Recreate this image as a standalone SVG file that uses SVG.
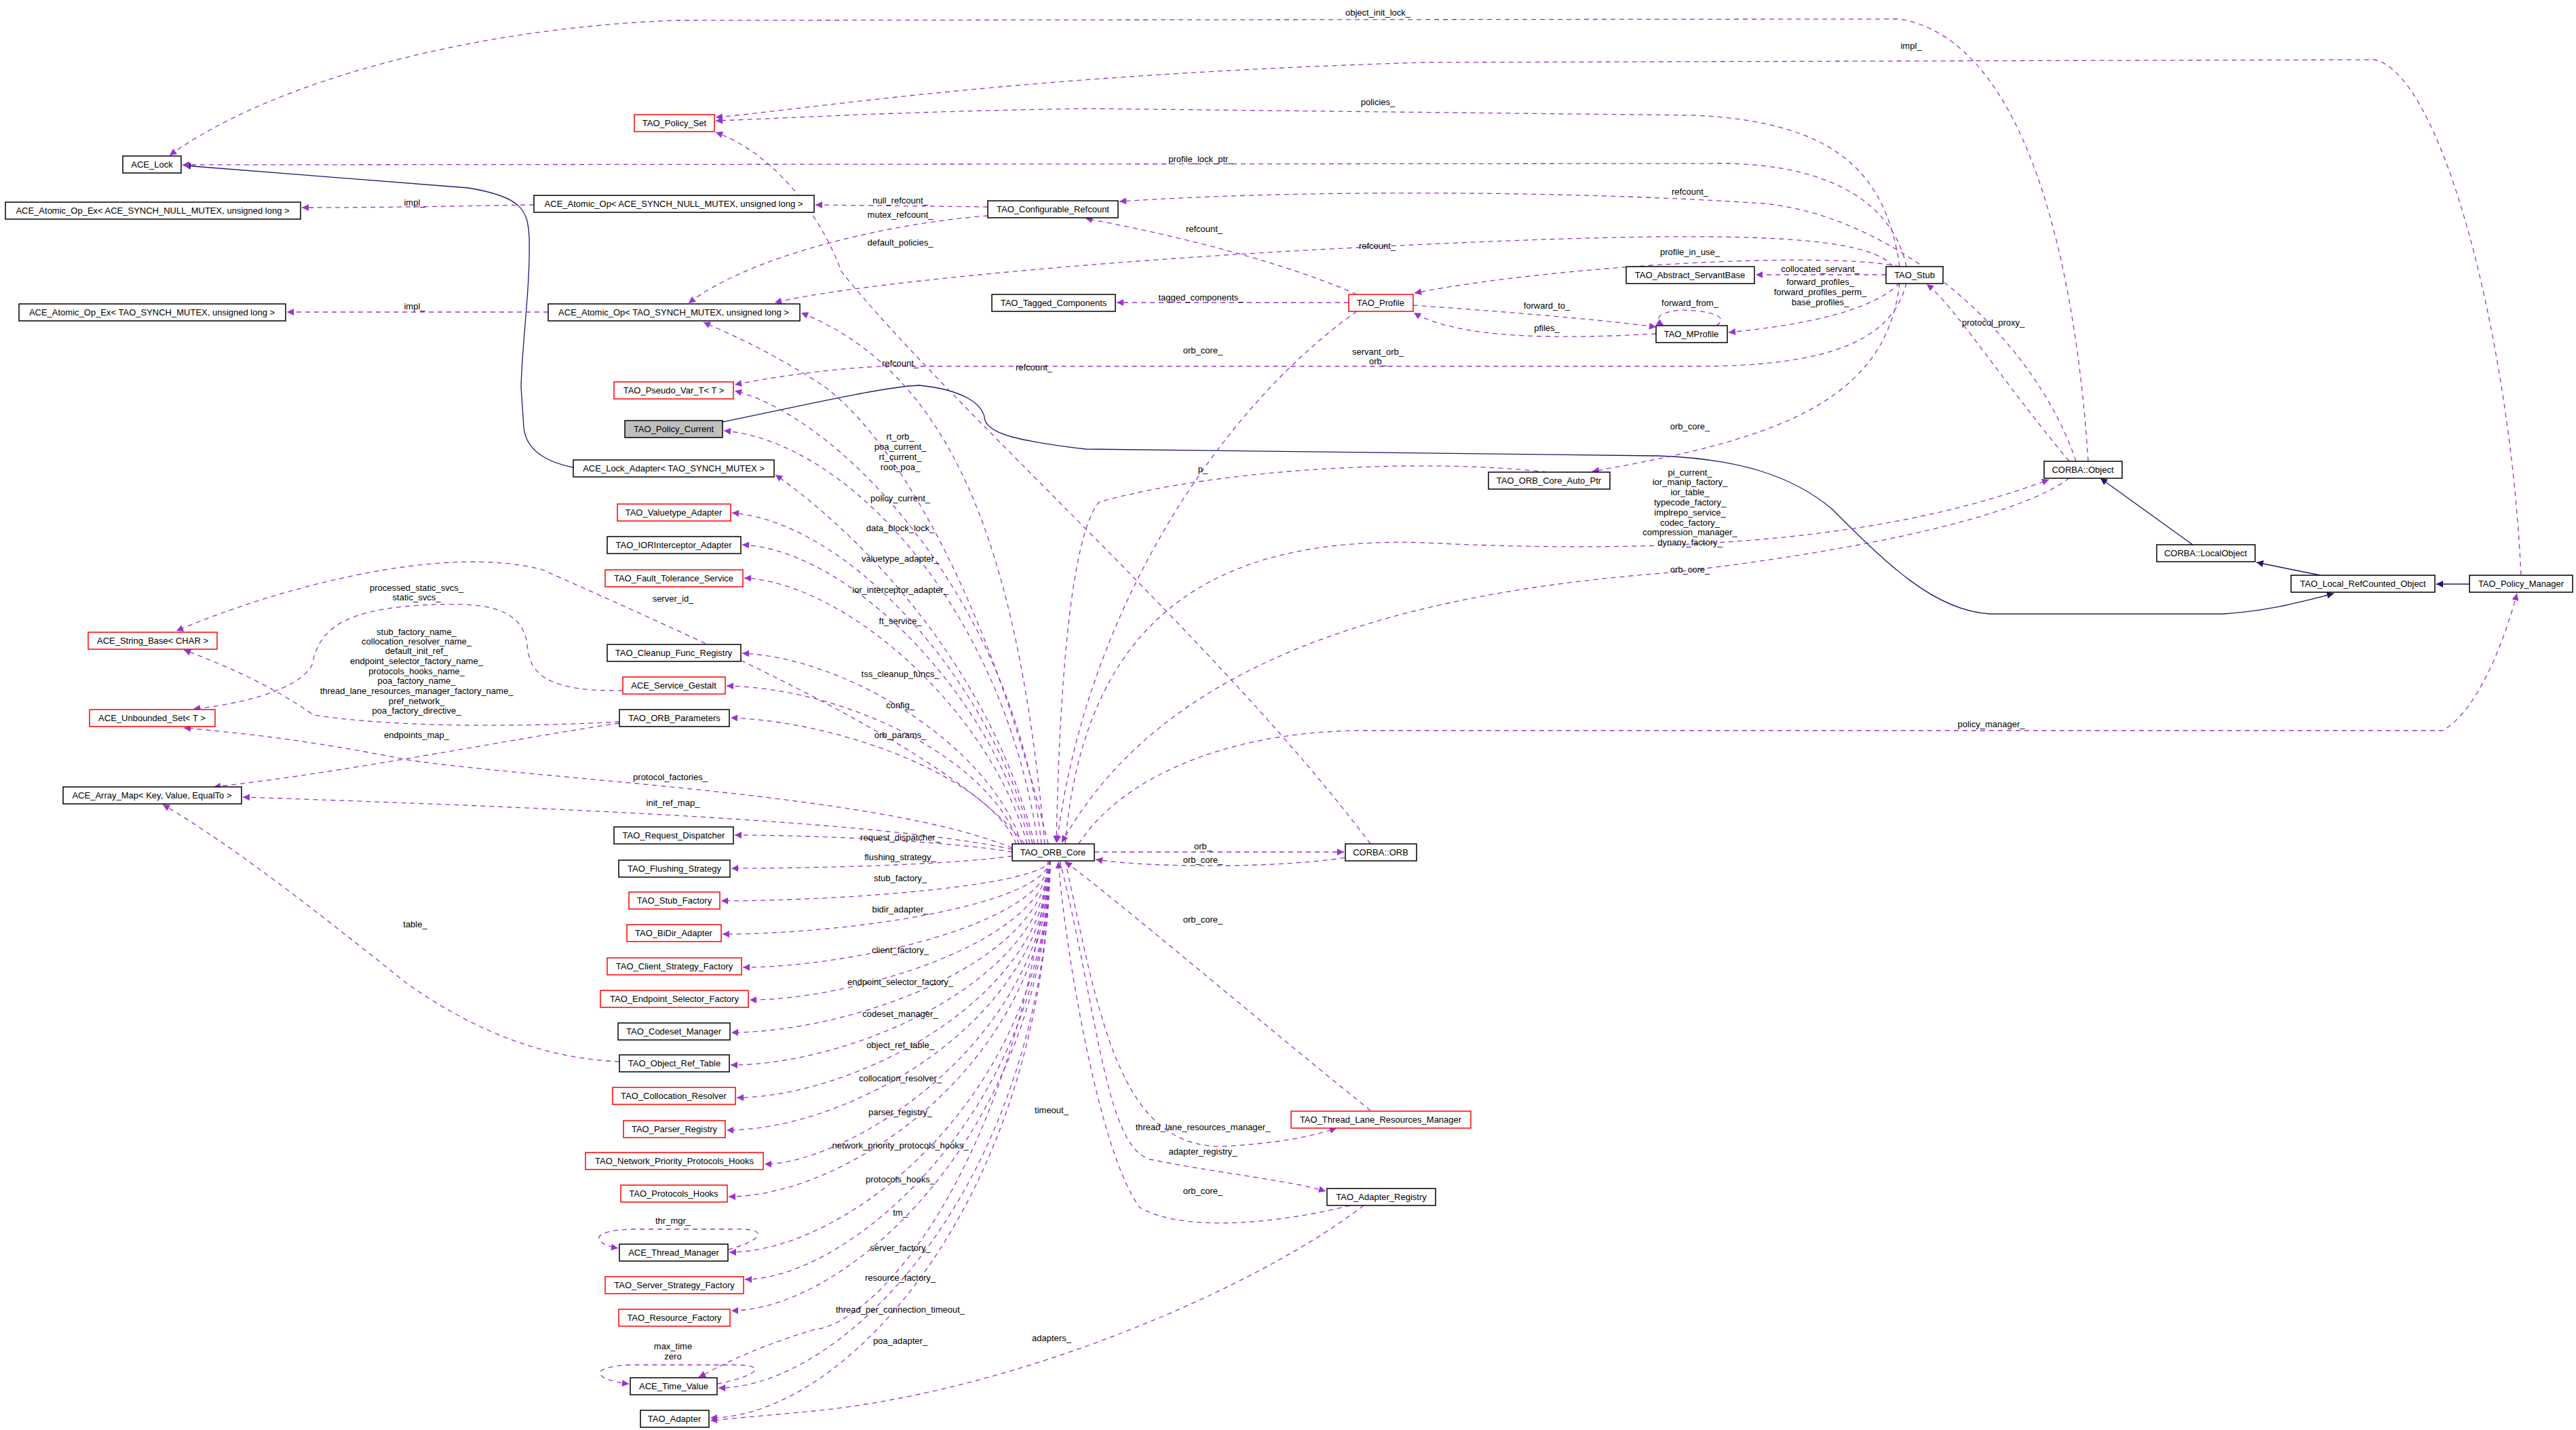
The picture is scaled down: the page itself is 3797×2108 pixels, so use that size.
<svg xmlns="http://www.w3.org/2000/svg" width="3797" height="2108" viewBox="0 0 3797 2108">
<style>
.n rect{fill:#fff;stroke:#000;stroke-width:1.5}
.n.r rect{stroke:#f00}
.n.g rect{fill:#bfbfbf}
text{font-family:"Liberation Sans",Arial,sans-serif;font-size:13px;fill:#000;text-anchor:middle}
.e path{fill:none;stroke:#9a32cd;stroke-width:1.3;stroke-dasharray:7,6;marker-end:url(#ap)}
.i path{fill:none;stroke:#191970;stroke-width:1.3;marker-end:url(#an)}
</style>
<defs>
<marker id="ap" viewBox="0 0 10 10" refX="10" refY="5" markerWidth="14" markerHeight="10" markerUnits="userSpaceOnUse" orient="auto"><path d="M0,0 L10,5 L0,10 z" fill="#9a32cd"/></marker>
<marker id="an" viewBox="0 0 10 10" refX="10" refY="5" markerWidth="14" markerHeight="10" markerUnits="userSpaceOnUse" orient="auto"><path d="M0,0 L10,5 L0,10 z" fill="#191970"/></marker>
</defs>
<rect width="3797" height="2108" fill="#fff"/>
<g id="connectors">
<g class="i">
<path d="M845,689 C800,680 775,660 772,630 L768,570 C770,500 782,420 780,350 C778,310 770,290 690,277 L271,244"/>
<path d="M1065,622 C1150,605 1300,570 1355,568 C1420,575 1450,595 1452,620 C1460,640 1500,650 1600,662 L2444,672 C2560,676 2640,700 2700,750 C2780,830 2850,900 2933,905 L3277,905 C3350,900 3400,885 3440,875"/>
<path d="M3232,803 L3096,705"/>
<path d="M3420,848 L3326,829"/>
<path d="M3640,861 L3591,861"/>
</g>
<g class="e">
<path d="M3078,680 C3060,400 2990,60 2800,28 L1000,30 C700,40 400,120 250,229"/>
<path d="M3716,848 C3700,500 3600,110 3500,88 L2100,92 C1500,110 1200,160 1055,173"/>
<path d="M2800,393 C2780,250 2700,180 2500,170 L1600,160 C1300,165 1150,175 1055,178"/>
<path d="M2810,393 C2790,300 2700,245 2550,241 L269,243"/>
<path d="M787,302 C700,303 600,306 445,306"/>
<path d="M1456,305 L1202,302"/>
<path d="M1456,318 C1300,330 1100,380 1015,447"/>
<path d="M808,460 L423,460"/>
<path d="M3060,680 C3000,500 2800,320 2600,300 C2300,280 1900,280 1650,297"/>
<path d="M2000,434 C1900,390 1750,350 1600,322"/>
<path d="M2790,393 C2750,340 2500,340 2000,365 C1600,385 1250,420 1142,446"/>
<path d="M2800,393 C2700,370 2300,390 2085,432"/>
<path d="M2780,405 L2588,405"/>
<path d="M2800,417 C2760,460 2650,480 2548,490"/>
<path d="M1988,446 L1646,446"/>
<path d="M2083,450 C2200,458 2350,470 2441,482"/>
<path d="M2441,492 C2300,500 2150,500 2084,461"/>
<path d="M2530,480 C2560,460 2480,455 2470,458 C2440,462 2440,472 2452,480"/>
<path d="M2810,417 C2790,500 2700,540 2500,540 L1300,540 C1200,545 1120,560 1083,567"/>
<path d="M2000,459 C1800,600 1600,900 1558,1242"/>
<path d="M3050,680 C2950,560 2880,450 2840,419"/>
<path d="M2800,417 C2780,600 2600,650 2347,695"/>
<path d="M2280,696 C2100,675 1800,690 1620,740 C1570,800 1560,1100 1557,1242"/>
<path d="M1570,1244 C1600,900 1800,790 2100,800 C2500,820 2800,790 3020,707"/>
<path d="M3050,705 C2950,780 2600,830 2450,845 C2000,880 1700,1000 1565,1242"/>
<path d="M1590,1244 C1650,1150 1800,1080 2000,1077 L3600,1077 C3650,1050 3690,950 3710,875"/>
<path d="M2020,1244 C1800,950 1400,600 1240,400 C1215,330 1150,230 1055,195"/>
<path d="M1540,1244 C1500,800 1400,550 1181,461"/>
<path d="M1545,1244 C1450,850 1300,620 1200,560 C1120,510 1070,490 1037,475"/>
<path d="M1535,1244 C1500,900 1250,620 1083,576"/>
<path d="M1530,1244 C1480,900 1250,650 1067,635"/>
<path d="M1525,1244 C1450,950 1230,760 1143,700"/>
<path d="M1522,1244 C1460,1000 1250,770 1079,756"/>
<path d="M1518,1244 C1460,1020 1250,810 1094,803"/>
<path d="M1514,1244 C1460,1050 1250,860 1097,852"/>
<path d="M1510,1244 C1400,1100 1000,930 800,840 C650,800 400,870 260,930"/>
<path d="M1506,1244 C1460,1100 1250,970 1094,963"/>
<path d="M1502,1244 C1460,1120 1250,1015 1071,1011"/>
<path d="M1498,1244 C1460,1150 1250,1065 1077,1058"/>
<path d="M918,1018 C800,1020 780,990 777,950 C770,890 700,890 648,891 C500,895 470,930 460,980 C440,1020 340,1040 285,1045"/>
<path d="M913,1064 C800,1070 600,1075 462,1054 C400,1010 330,980 271,958"/>
<path d="M913,1066 C750,1090 500,1140 315,1160"/>
<path d="M1492,1250 C1300,1170 800,1150 600,1120 C450,1090 350,1080 271,1073"/>
<path d="M1492,1252 C1300,1210 800,1190 358,1175"/>
<path d="M913,1565 C800,1560 700,1520 600,1450 C500,1370 350,1250 240,1186"/>
<path d="M1492,1256 C1400,1240 1200,1231 1083,1231"/>
<path d="M1492,1262 C1400,1275 1200,1280 1078,1280"/>
<path d="M1548,1268 C1540,1305 1250,1328 1063,1328"/>
<path d="M1548,1268 C1540,1334 1250,1377 1065,1377"/>
<path d="M1548,1268 C1540,1363 1250,1426 1095,1426"/>
<path d="M1548,1268 C1540,1392 1250,1474 1105,1474"/>
<path d="M1548,1268 C1540,1421 1250,1522 1078,1522"/>
<path d="M1548,1268 C1540,1450 1250,1570 1077,1570"/>
<path d="M1548,1268 C1540,1479 1250,1618 1086,1618"/>
<path d="M1548,1268 C1540,1507 1250,1666 1071,1666"/>
<path d="M1548,1268 C1540,1537 1250,1716 1127,1716"/>
<path d="M1548,1268 C1540,1566 1250,1764 1074,1764"/>
<path d="M1548,1268 C1540,1615 1250,1846 1075,1846"/>
<path d="M1548,1268 C1540,1639 1250,1886 1098,1886"/>
<path d="M1548,1268 C1540,1666 1250,1932 1078,1932"/>
<path d="M1548,1268 C1540,1735 1250,2046 1059,2046"/>
<path d="M1548,1268 C1540,1761 1250,2090 1047,2090"/>
<path d="M1545,1268 C1500,1700 1300,1950 1200,1960 C1100,1990 1050,2020 1030,2030"/>
<path d="M1073,1842 C1120,1830 1140,1810 1080,1812 L930,1812 C860,1815 880,1835 911,1840"/>
<path d="M1057,2040 C1110,2030 1140,2012 1080,2012 L930,2012 C860,2015 880,2035 927,2040"/>
<path d="M2010,1777 C1850,1900 1500,2050 1200,2080 L1047,2094"/>
<path d="M1613,1256 L1981,1256"/>
<path d="M1995,1262 C1900,1280 1700,1280 1615,1267"/>
<path d="M2020,1637 C1850,1500 1650,1330 1570,1270"/>
<path d="M1570,1268 C1620,1500 1650,1690 1800,1690 C1900,1685 1950,1670 1970,1663"/>
<path d="M1562,1268 C1620,1500 1630,1700 1700,1710 C1800,1730 1900,1740 1954,1756"/>
<path d="M1990,1777 C1900,1800 1750,1820 1680,1780 C1620,1700 1570,1400 1560,1270"/>
</g>
<g id="labels">
<text x="2031" y="23">object_init_lock_</text>
<text x="2817" y="72">impl_</text>
<text x="2031" y="155">policies_</text>
<text x="1770" y="239">profile_lock_ptr_</text>
<text x="611" y="303">impl_</text>
<text x="611" y="456">impl_</text>
<text x="1327" y="300">null_refcount_</text>
<text x="1327" y="321">mutex_refcount_</text>
<text x="1327" y="362">default_policies_</text>
<text x="2491" y="287">refcount_</text>
<text x="1775" y="342">refcount_</text>
<text x="2030" y="367">refcount_</text>
<text x="2491" y="376">profile_in_use_</text>
<text x="2683" y="401">collocated_servant_</text>
<text x="2683" y="420">forward_profiles_</text>
<text x="2683" y="435">forward_profiles_perm_</text>
<text x="2683" y="450">base_profiles_</text>
<text x="1770" y="443">tagged_components_</text>
<text x="2280" y="455">forward_to_</text>
<text x="2280" y="488">pfiles_</text>
<text x="2491" y="451">forward_from_</text>
<text x="2938" y="480">protocol_proxy_</text>
<text x="1773" y="521">orb_core_</text>
<text x="2031" y="523">servant_orb_</text>
<text x="2031" y="537">orb_</text>
<text x="1327" y="540">refcount_</text>
<text x="1524" y="546">refcount_</text>
<text x="1327" y="648">rt_orb_</text>
<text x="1327" y="663">poa_current_</text>
<text x="1327" y="678">rt_current_</text>
<text x="1327" y="693">root_poa_</text>
<text x="2491" y="633">orb_core_</text>
<text x="1773" y="696">p_</text>
<text x="2491" y="701">pi_current_</text>
<text x="2491" y="715">ior_manip_factory_</text>
<text x="2491" y="730">ior_table_</text>
<text x="2491" y="745">typecode_factory_</text>
<text x="2491" y="760">implrepo_service_</text>
<text x="2491" y="775">codec_factory_</text>
<text x="2491" y="789">compression_manager_</text>
<text x="2491" y="804">dynany_factory_</text>
<text x="2491" y="844">orb_core_</text>
<text x="1327" y="739">policy_current_</text>
<text x="1327" y="783">data_block_lock_</text>
<text x="1327" y="828">valuetype_adapter_</text>
<text x="1327" y="874">ior_interceptor_adapter_</text>
<text x="1327" y="920">ft_service_</text>
<text x="992" y="887">server_id_</text>
<text x="1327" y="998">tss_cleanup_funcs_</text>
<text x="1327" y="1044">config_</text>
<text x="1327" y="1088">orb_params_</text>
<text x="2935" y="1072">policy_manager_</text>
<text x="614" y="871">processed_static_svcs_</text>
<text x="614" y="885">static_svcs_</text>
<text x="614" y="936">stub_factory_name_</text>
<text x="614" y="950">collocation_resolver_name_</text>
<text x="614" y="964">default_init_ref_</text>
<text x="614" y="979">endpoint_selector_factory_name_</text>
<text x="614" y="994">protocols_hooks_name_</text>
<text x="614" y="1008">poa_factory_name_</text>
<text x="614" y="1023">thread_lane_resources_manager_factory_name_</text>
<text x="614" y="1038">pref_network_</text>
<text x="614" y="1052">poa_factory_directive_</text>
<text x="614" y="1088">endpoints_map_</text>
<text x="988" y="1150">protocol_factories_</text>
<text x="992" y="1188">init_ref_map_</text>
<text x="612" y="1367">table_</text>
<text x="1327" y="1239">request_dispatcher_</text>
<text x="1327" y="1268">flushing_strategy_</text>
<text x="1327" y="1299">stub_factory_</text>
<text x="1327" y="1345">bidir_adapter_</text>
<text x="1327" y="1405">client_factory_</text>
<text x="1327" y="1452">endpoint_selector_factory_</text>
<text x="1327" y="1499">codeset_manager_</text>
<text x="1327" y="1545">object_ref_table_</text>
<text x="1327" y="1594">collocation_resolver_</text>
<text x="1327" y="1644">parser_registry_</text>
<text x="1327" y="1693">network_priority_protocols_hooks_</text>
<text x="1327" y="1743">protocols_hooks_</text>
<text x="1327" y="1792">tm_</text>
<text x="1327" y="1844">server_factory_</text>
<text x="1327" y="1888">resource_factory_</text>
<text x="1327" y="1935">thread_per_connection_timeout_</text>
<text x="1327" y="1981">poa_adapter_</text>
<text x="992" y="1804">thr_mgr_</text>
<text x="992" y="1989">max_time</text>
<text x="992" y="2004">zero</text>
<text x="1773" y="1252">orb_</text>
<text x="1773" y="1272">orb_core_</text>
<text x="1773" y="1360">orb_core_</text>
<text x="1550" y="1641">timeout_</text>
<text x="1773" y="1666">thread_lane_resources_manager_</text>
<text x="1773" y="1702">adapter_registry_</text>
<text x="1773" y="1760">orb_core_</text>
<text x="1550" y="1977">adapters_</text>
</g>
</g>
<g id="ACE_Lock" class="n"><rect x="181" y="230" width="86" height="25"/><text x="224" y="247">ACE_Lock</text></g>
<g id="TAO_Policy_Set" class="n r"><rect x="935" y="169" width="118" height="25"/><text x="994" y="186">TAO_Policy_Set</text></g>
<g id="Op_Ex_NULL" class="n"><rect x="8" y="298" width="435" height="25"/><text x="225" y="315">ACE_Atomic_Op_Ex&lt; ACE_SYNCH_NULL_MUTEX, unsigned long &gt;</text></g>
<g id="Op_NULL" class="n"><rect x="787" y="288" width="413" height="25"/><text x="993" y="305">ACE_Atomic_Op&lt; ACE_SYNCH_NULL_MUTEX, unsigned long &gt;</text></g>
<g id="Op_Ex_TAO" class="n"><rect x="28" y="448" width="393" height="25"/><text x="224" y="465">ACE_Atomic_Op_Ex&lt; TAO_SYNCH_MUTEX, unsigned long &gt;</text></g>
<g id="Op_TAO" class="n"><rect x="808" y="448" width="371" height="25"/><text x="993" y="465">ACE_Atomic_Op&lt; TAO_SYNCH_MUTEX, unsigned long &gt;</text></g>
<g id="TAO_Pseudo_Var_T" class="n r"><rect x="905" y="563" width="176" height="25"/><text x="993" y="580">TAO_Pseudo_Var_T&lt; T &gt;</text></g>
<g id="TAO_Policy_Current" class="n g"><rect x="921" y="620" width="144" height="25"/><text x="993" y="637">TAO_Policy_Current</text></g>
<g id="ACE_Lock_Adapter" class="n"><rect x="845" y="678" width="296" height="25"/><text x="993" y="695">ACE_Lock_Adapter&lt; TAO_SYNCH_MUTEX &gt;</text></g>
<g id="TAO_Valuetype_Adapter" class="n r"><rect x="910" y="743" width="167" height="25"/><text x="993" y="760">TAO_Valuetype_Adapter</text></g>
<g id="TAO_IORInterceptor_Adapter" class="n"><rect x="895" y="791" width="197" height="25"/><text x="993" y="808">TAO_IORInterceptor_Adapter</text></g>
<g id="TAO_Fault_Tolerance_Service" class="n r"><rect x="892" y="840" width="203" height="25"/><text x="993" y="857">TAO_Fault_Tolerance_Service</text></g>
<g id="ACE_String_Base" class="n r"><rect x="130" y="932" width="190" height="25"/><text x="225" y="949">ACE_String_Base&lt; CHAR &gt;</text></g>
<g id="TAO_Cleanup_Func_Registry" class="n"><rect x="895" y="950" width="197" height="25"/><text x="993" y="967">TAO_Cleanup_Func_Registry</text></g>
<g id="ACE_Service_Gestalt" class="n r"><rect x="918" y="998" width="151" height="25"/><text x="993" y="1015">ACE_Service_Gestalt</text></g>
<g id="ACE_Unbounded_Set" class="n r"><rect x="132" y="1046" width="185" height="25"/><text x="224" y="1063">ACE_Unbounded_Set&lt; T &gt;</text></g>
<g id="TAO_ORB_Parameters" class="n"><rect x="913" y="1046" width="162" height="25"/><text x="994" y="1063">TAO_ORB_Parameters</text></g>
<g id="ACE_Array_Map" class="n"><rect x="93" y="1160" width="263" height="25"/><text x="224" y="1177">ACE_Array_Map&lt; Key, Value, EqualTo &gt;</text></g>
<g id="TAO_Request_Dispatcher" class="n"><rect x="905" y="1219" width="176" height="25"/><text x="993" y="1236">TAO_Request_Dispatcher</text></g>
<g id="TAO_Flushing_Strategy" class="n"><rect x="912" y="1268" width="164" height="25"/><text x="994" y="1285">TAO_Flushing_Strategy</text></g>
<g id="TAO_Stub_Factory" class="n r"><rect x="927" y="1315" width="134" height="25"/><text x="994" y="1332">TAO_Stub_Factory</text></g>
<g id="TAO_BiDir_Adapter" class="n r"><rect x="924" y="1363" width="139" height="25"/><text x="993" y="1380">TAO_BiDir_Adapter</text></g>
<g id="TAO_Client_Strategy_Factory" class="n r"><rect x="895" y="1412" width="198" height="25"/><text x="994" y="1429">TAO_Client_Strategy_Factory</text></g>
<g id="TAO_Endpoint_Selector_Factory" class="n r"><rect x="885" y="1460" width="218" height="25"/><text x="994" y="1477">TAO_Endpoint_Selector_Factory</text></g>
<g id="TAO_Codeset_Manager" class="n"><rect x="911" y="1508" width="165" height="25"/><text x="993" y="1525">TAO_Codeset_Manager</text></g>
<g id="TAO_Object_Ref_Table" class="n"><rect x="913" y="1555" width="162" height="25"/><text x="994" y="1572">TAO_Object_Ref_Table</text></g>
<g id="TAO_Collocation_Resolver" class="n r"><rect x="903" y="1603" width="181" height="25"/><text x="993" y="1620">TAO_Collocation_Resolver</text></g>
<g id="TAO_Parser_Registry" class="n r"><rect x="919" y="1652" width="150" height="25"/><text x="994" y="1669">TAO_Parser_Registry</text></g>
<g id="TAO_Network_Priority_Protocols_Hooks" class="n r"><rect x="863" y="1699" width="262" height="25"/><text x="994" y="1716">TAO_Network_Priority_Protocols_Hooks</text></g>
<g id="TAO_Protocols_Hooks" class="n r"><rect x="915" y="1747" width="157" height="25"/><text x="993" y="1764">TAO_Protocols_Hooks</text></g>
<g id="ACE_Thread_Manager" class="n"><rect x="913" y="1834" width="160" height="25"/><text x="993" y="1851">ACE_Thread_Manager</text></g>
<g id="TAO_Server_Strategy_Factory" class="n r"><rect x="892" y="1882" width="204" height="25"/><text x="994" y="1899">TAO_Server_Strategy_Factory</text></g>
<g id="TAO_Resource_Factory" class="n r"><rect x="912" y="1930" width="164" height="25"/><text x="994" y="1947">TAO_Resource_Factory</text></g>
<g id="ACE_Time_Value" class="n"><rect x="929" y="2031" width="128" height="25"/><text x="993" y="2048">ACE_Time_Value</text></g>
<g id="TAO_Adapter" class="n"><rect x="944" y="2079" width="101" height="25"/><text x="994" y="2096">TAO_Adapter</text></g>
<g id="TAO_ORB_Core" class="n"><rect x="1492" y="1244" width="121" height="25"/><text x="1552" y="1261">TAO_ORB_Core</text></g>
<g id="CORBA_ORB" class="n"><rect x="1983" y="1244" width="105" height="25"/><text x="2035" y="1261">CORBA::ORB</text></g>
<g id="TAO_Thread_Lane_Resources_Manager" class="n r"><rect x="1903" y="1638" width="265" height="25"/><text x="2035" y="1655">TAO_Thread_Lane_Resources_Manager</text></g>
<g id="TAO_Adapter_Registry" class="n"><rect x="1956" y="1752" width="160" height="25"/><text x="2036" y="1769">TAO_Adapter_Registry</text></g>
<g id="TAO_Configurable_Refcount" class="n"><rect x="1456" y="296" width="192" height="25"/><text x="1552" y="313">TAO_Configurable_Refcount</text></g>
<g id="TAO_Tagged_Components" class="n"><rect x="1462" y="434" width="182" height="25"/><text x="1553" y="451">TAO_Tagged_Components</text></g>
<g id="TAO_Profile" class="n r"><rect x="1988" y="434" width="95" height="25"/><text x="2035" y="451">TAO_Profile</text></g>
<g id="TAO_Abstract_ServantBase" class="n"><rect x="2397" y="393" width="189" height="25"/><text x="2491" y="410">TAO_Abstract_ServantBase</text></g>
<g id="TAO_MProfile" class="n"><rect x="2441" y="480" width="105" height="25"/><text x="2493" y="497">TAO_MProfile</text></g>
<g id="TAO_Stub" class="n"><rect x="2780" y="393" width="84" height="25"/><text x="2822" y="410">TAO_Stub</text></g>
<g id="TAO_ORB_Core_Auto_Ptr" class="n"><rect x="2194" y="696" width="179" height="25"/><text x="2283" y="713">TAO_ORB_Core_Auto_Ptr</text></g>
<g id="CORBA_Object" class="n"><rect x="3013" y="680" width="115" height="25"/><text x="3070" y="697">CORBA::Object</text></g>
<g id="CORBA_LocalObject" class="n"><rect x="3179" y="803" width="145" height="25"/><text x="3251" y="820">CORBA::LocalObject</text></g>
<g id="TAO_Local_RefCounted_Object" class="n"><rect x="3377" y="848" width="212" height="25"/><text x="3483" y="865">TAO_Local_RefCounted_Object</text></g>
<g id="TAO_Policy_Manager" class="n"><rect x="3640" y="848" width="152" height="25"/><text x="3716" y="865">TAO_Policy_Manager</text></g>
</svg>
